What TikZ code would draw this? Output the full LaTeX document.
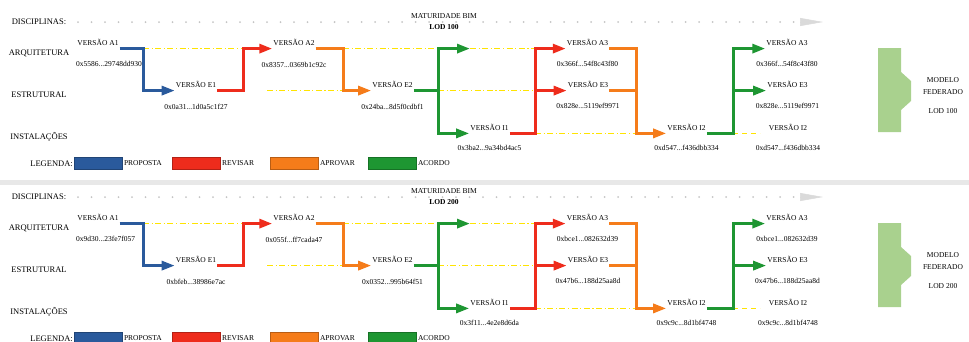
\documentclass[tikz,border=0pt]{standalone}
\usepackage{fontspec}
\setmainfont{Liberation Serif}
\usetikzlibrary{arrows.meta, positioning}

\definecolor{azul}{HTML}{2A5A9C}
\definecolor{vermelho}{HTML}{EE2C1C}
\definecolor{laranja}{HTML}{F57C1A}
\definecolor{verde}{HTML}{1E9632}
\definecolor{amarelo}{HTML}{FFE400}
\definecolor{cinza}{HTML}{C4C4C4}
\definecolor{cinzaclaro}{HTML}{DADADA}
\definecolor{faixa}{HTML}{E8E8E8}
\definecolor{verdeclaro}{HTML}{A9D18E}

% um painel: #1..#8 = hashes (A1 E1 A2 E2 I1 A3 E3 I2), #9 = LOD
\newcommand{\painel}[9]{%
  % linha do tempo
  \node[disc] (disc) at (39,22) {DISCIPLINAS:};
  \coordinate (ini) at (78,22);
  \coordinate (fim) at (800,22);
  \coordinate (ponta) at (823,22);
  \draw[pontos] (ini) -- (fim);
  \draw[setacinza] (fim) -- (ponta);
  \node[rotulo] (mat) at (444,16) {MATURIDADE BIM};
  \node[rotulo, font=\fontsize{7.5}{9}\selectfont\bfseries] (lod) at (444,27) {#9};
  % disciplinas
  \node[disc] (arq) at (39,53) {ARQUITETURA};
  \node[disc] (est) at (39,95) {ESTRUTURAL};
  \node[disc] (inst) at (39,137) {INSTALAÇÕES};
  % versoes
  \node[versao] (a1) at (98,42.2) {VERSÃO A1};
  \node[hash, anchor=west] (ha1) at (75,64) {#1};
  \node[versao] (e1) at (196,84.2) {VERSÃO E1};
  \node[hash, below=12pt of e1] (he1) {#2};
  \node[versao] (a2) at (294,42.2) {VERSÃO A2};
  \node[hash, below=12pt of a2] (ha2) {#3};
  \node[versao] (e2) at (392.5,84.2) {VERSÃO E2};
  \node[hash, below=12pt of e2] (he2) {#4};
  \node[versao] (i1) at (489.5,127) {VERSÃO I1};
  \node[hash, below=11pt of i1] (hi1) {#5};
  \node[versao] (a3) at (587.5,42.2) {VERSÃO A3};
  \node[hash, below=11pt of a3] (ha3) {#6};
  \node[versao] (e3) at (588,84.2) {VERSÃO E3};
  \node[hash, below=11pt of e3] (he3) {#7};
  \node[versao] (i2) at (686.5,127) {VERSÃO I2};
  \node[hash, below=11pt of i2] (hi2) {#8};
  \node[versao] (a3f) at (787,42.2) {VERSÃO A3};
  \node[hash, below=11pt of a3f] (ha3f) {#6};
  \node[versao] (e3f) at (787.5,84.2) {VERSÃO E3};
  \node[hash, below=11pt of e3f] (he3f) {#7};
  \node[versao] (i2f) at (788,127) {VERSÃO I2};
  \node[hash, below=11pt of i2f] (hi2f) {#8};
  % eixos verticais
  \coordinate (t1) at (143,0);
  \coordinate (t2) at (243,0);
  \coordinate (t3) at (343,0);
  \coordinate (t4) at (438,0);
  \coordinate (t5) at (535,0);
  \coordinate (t6) at (636,0);
  \coordinate (t7) at (733,0);
  \coordinate (g1) at (470,0);
  \coordinate (y1) at (267,0);
  \coordinate (y2) at (760,0);
  % sem alteracao
  \draw[pontotraco] (t1 |- a1.south) -- (t2 |- a2.south);
  \draw[pontotraco] (y1 |- e2.south) -- (t3 |- e2.south);
  \draw[pontotraco] (t3 |- a2.south) -- (t4 |- a2.south);
  \draw[pontotraco] (t4 |- e2.south) -- (t5 |- e3.south);
  \draw[pontotraco] (g1 |- a3.south) -- (t5 |- a3.south);
  \draw[pontotraco] (t5 |- i1.south) -- (t6 |- i2.south);
  \draw[tracocurto] (t7 |- i2.south) -- (y2 |- i2f.south);
  % fluxo
  \draw[seta, azul] (a1.south east) -- (t1 |- a1.south) |- (e1.south west);
  \draw[seta, vermelho] (e1.south east) -- (t2 |- e1.south) |- (a2.south west);
  \draw[seta, laranja] (a2.south east) -- (t3 |- a2.south) |- (e2.south west);
  \draw[linha, verde] (e2.south east) -- (t4 |- e2.south);
  \draw[seta, verde] (t4 |- i1.south) |- (g1 |- a2.south);
  \draw[seta, verde] (t4 |- a2.south) |- (i1.south west);
  \draw[seta, vermelho] (i1.south east) -| (t5 |- a3.south) -- (a3.south west);
  \draw[seta, vermelho] (t5 |- e3.south) -- (e3.south west);
  \draw[linha, laranja] (a3.south east) -| (t6 |- e3.south);
  \draw[seta, laranja] (e3.south east) -| (t6 |- i2.south) -- (i2.south west);
  \draw[seta, verde] (i2.south east) -| (t7 |- a3f.south) -- (a3f.south west);
  \draw[seta, verde] (t7 |- e3f.south) -- (e3f.south west);
  % legenda
  \node[disc, anchor=east] (leg) at (73,163.5) {LEGENDA:};
  \node[legcaixa=azul] (leg1) at (98,163.5) {};
  \node[legtexto, right=1.5pt of leg1] (legt1) {PROPOSTA};
  \node[legcaixa=vermelho] (leg2) at (196,163.5) {};
  \node[legtexto, right=1.5pt of leg2] (legt2) {REVISAR};
  \node[legcaixa=laranja] (leg3) at (294,163.5) {};
  \node[legtexto, right=1.5pt of leg3] (legt3) {APROVAR};
  \node[legcaixa=verde] (leg4) at (392,163.5) {};
  \node[legtexto, right=1.5pt of leg4] (legt4) {ACORDO};
  % modelo federado
  \fill[verdeclaro] (878,48) -- (901,48) -- (901,72) -- (911,81) -- (911,101)
    -- (901,110) -- (901,132) -- (878,132) -- cycle;
  \node[modelo] (mod) at (943,77.5) {MODELO\\FEDERADO\\[8pt]#9};
}

\begin{document}
\begin{tikzpicture}[
  x=1pt, y=-1pt,
  disc/.style={inner sep=0pt, font=\fontsize{8.5}{10}\selectfont},
  rotulo/.style={inner sep=0pt, font=\fontsize{7.5}{9}\selectfont},
  versao/.style={inner xsep=1pt, inner ysep=3pt, font=\fontsize{7.5}{9}\selectfont},
  hash/.style={inner sep=1pt, font=\fontsize{7.5}{9}\selectfont},
  linha/.style={line width=3pt},
  seta/.style={line width=3pt, -{Triangle[length=13pt, width=9pt]}},
  pontotraco/.style={amarelo, line width=1.4pt,
                     dash pattern=on 6pt off 2.5pt on 1.2pt off 2.5pt},
  tracocurto/.style={amarelo, line width=1.4pt, dash pattern=on 5pt off 4pt},
  pontos/.style={cinza, line width=2pt, line cap=round,
                 dash pattern=on 0pt off 13.5pt},
  setacinza/.style={cinzaclaro, line width=0.5pt,
                    -{Triangle[length=23pt, width=8pt]}},
  legcaixa/.style={minimum width=48pt, minimum height=12pt, inner sep=0pt,
                   fill=#1, draw=#1!75!black, line width=0.6pt},
  legtexto/.style={inner sep=0pt, font=\fontsize{7.5}{9}\selectfont},
  modelo/.style={anchor=north, inner sep=0pt, align=center,
                 font=\fontsize{7.5}{11.5}\selectfont}
]
\useasboundingbox (0,0) rectangle (969,341);

\begin{scope}[name prefix=lod1-]
  \painel{0x5586...29748dd930}{0x0a31...1d0a5c1f27}{0x8357...0369b1c92c}%
         {0x24ba...8d5f0cdbf1}{0x3ba2...9a34bd4ac5}{0x366f...54f8c43f80}%
         {0x828e...5119ef9971}{0xd547...f436dbb334}{LOD 100}
\end{scope}

\fill[faixa] (0,180) rectangle (969,185);

\begin{scope}[shift={(0,175)}, name prefix=lod2-]
  \painel{0x9d30...23fe7f057}{0xbfeb...38986e7ac}{0x055f...ff7cada47}%
         {0x0352...995b64f51}{0x3f11...4e2e8d6da}{0xbce1...082632d39}%
         {0x47b6...188d25aa8d}{0x9c9c...8d1bf4748}{LOD 200}
\end{scope}
\end{tikzpicture}
\end{document}
